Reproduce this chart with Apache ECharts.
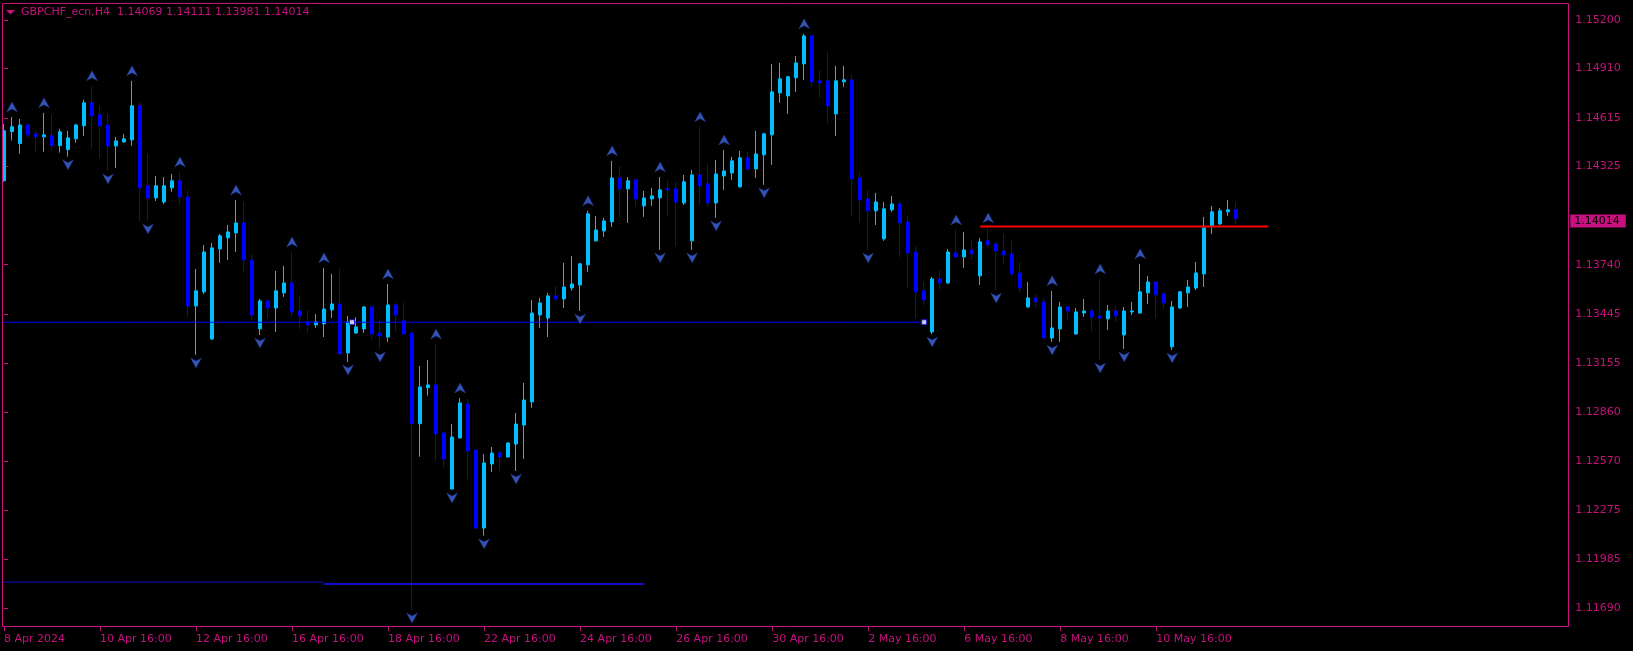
<!DOCTYPE html>
<html><head><meta charset="utf-8">
<script src="https://cdn.jsdelivr.net/npm/echarts@6/dist/echarts.min.js"></script>
<style>html,body{margin:0;padding:0;background:#000;overflow:hidden}#c{width:1633px;height:651px;}</style>
</head><body><div id="c"></div>
<script>
// ---------- data ----------
const titleText = 'GBPCHF_ecn,H4  1.14069 1.14111 1.13981 1.14014';
const tickLabels = ['8 Apr 2024','10 Apr 16:00','12 Apr 16:00','16 Apr 16:00','18 Apr 16:00','22 Apr 16:00','24 Apr 16:00','26 Apr 16:00','30 Apr 16:00','2 May 16:00','6 May 16:00','8 May 16:00','10 May 16:00'];
const barsPerTick = 12;
const slotCount = 196;
const priceTicks = [1.15200,1.14910,1.14615,1.14325,1.13740,1.13445,1.13155,1.12860,1.12570,1.12275,1.11985,1.11690];
const priceMin = 1.11580, priceMax = 1.15300;

const open = [1.14240,1.14534,1.14462,1.14573,1.14520,1.14502,1.14508,1.14450,1.14426,1.14490,
1.14568,1.14705,1.14633,1.14573,1.14448,1.14472,1.14484,1.14687,1.14210,1.14138,
1.14114,1.14198,1.14240,1.14144,1.13494,1.13578,1.13297,1.13834,1.13900,1.13929,
1.13989,1.13768,1.13357,1.13524,1.13482,1.13572,1.13631,1.13464,1.13399,1.13381,
1.13387,1.13470,1.13506,1.13214,1.13333,1.13357,1.13488,1.13333,1.13309,1.13500,
1.13405,1.13333,1.12792,1.13007,1.13023,1.12737,1.12403,1.12707,1.12910,1.12635,
1.12170,1.12552,1.12617,1.12594,1.12671,1.12784,1.12922,1.13440,1.13422,1.13554,
1.13536,1.13601,1.13619,1.13739,1.13882,1.13941,1.13995,1.14257,1.14192,1.14246,
1.14090,1.14132,1.14138,1.14192,1.14192,1.14108,1.13882,1.14275,1.14222,1.14108,
1.14269,1.14287,1.14204,1.14377,1.14311,1.14395,1.14514,1.14764,1.14746,1.14854,
1.14937,1.15104,1.14836,1.14836,1.14639,1.14830,1.14842,1.14257,1.14132,1.14061,
1.13894,1.14067,1.14102,1.13995,1.13816,1.13584,1.13339,1.13655,1.13631,1.13810,
1.13786,1.13828,1.13673,1.13882,1.13864,1.13822,1.13804,1.13691,1.13488,1.13542,
1.13518,1.13303,1.13357,1.13488,1.13327,1.13452,1.13464,1.13434,1.13417,1.13464,
1.13321,1.13458,1.13452,1.13572,1.13637,1.13566,1.13250,1.13482,1.13572,1.13601,
1.13685,1.13971,1.13983,1.14055,1.14069];
const high = [1.14580,1.14621,1.14609,1.14580,1.14538,1.14645,1.14633,1.14550,1.14538,1.14580,
1.14723,1.14806,1.14687,1.14639,1.14502,1.14520,1.14836,1.14711,1.14400,1.14269,
1.14263,1.14281,1.14293,1.14180,1.13715,1.13858,1.13870,1.13923,1.13977,1.14126,
1.14114,1.13804,1.13536,1.13530,1.13703,1.13733,1.13816,1.13554,1.13470,1.13446,
1.13721,1.13685,1.13715,1.13434,1.13428,1.13494,1.13500,1.13405,1.13625,1.13512,
1.13512,1.13339,1.13136,1.13172,1.13267,1.12740,1.12790,1.12945,1.12939,1.12640,
1.12611,1.12653,1.12629,1.12682,1.12856,1.13035,1.13530,1.13542,1.13572,1.13613,
1.13751,1.13792,1.13751,1.14061,1.14031,1.14019,1.14359,1.14329,1.14263,1.14250,
1.14180,1.14198,1.14263,1.14240,1.14234,1.14275,1.14305,1.14562,1.14341,1.14365,
1.14424,1.14383,1.14418,1.14412,1.14538,1.14526,1.14937,1.14943,1.14866,1.14985,
1.15116,1.15110,1.14902,1.15009,1.14925,1.14925,1.14872,1.14293,1.14186,1.14168,
1.14114,1.14150,1.14120,1.14031,1.13846,1.13637,1.13667,1.13709,1.13834,1.13947,
1.13935,1.13888,1.13900,1.13959,1.13876,1.13923,1.13882,1.13756,1.13637,1.13566,
1.13542,1.13584,1.13518,1.13494,1.13482,1.13536,1.13482,1.13655,1.13500,1.13494,
1.13488,1.13518,1.13745,1.13673,1.13643,1.13578,1.13524,1.13584,1.13649,1.13756,
1.14025,1.14090,1.14079,1.14126,1.14111];
const low = [1.14234,1.14480,1.14402,1.14494,1.14414,1.14414,1.14420,1.14408,1.14384,1.14468,
1.14508,1.14430,1.14377,1.14299,1.14317,1.14466,1.14448,1.14001,1.14001,1.14120,
1.14102,1.14174,1.14096,1.13428,1.13202,1.13566,1.13291,1.13751,1.13768,1.13816,
1.13697,1.13411,1.13321,1.13422,1.13339,1.13548,1.13428,1.13357,1.13333,1.13363,
1.13309,1.13422,1.13205,1.13160,1.13327,1.13333,1.13291,1.13238,1.13279,1.13339,
1.13320,1.11681,1.12595,1.12959,1.12570,1.12530,1.12397,1.12703,1.12462,1.12164,
1.12124,1.12504,1.12510,1.12588,1.12510,1.12582,1.12886,1.13363,1.13309,1.13524,
1.13482,1.13584,1.13464,1.13697,1.13876,1.13906,1.13965,1.14019,1.13989,1.14085,
1.14025,1.14090,1.13828,1.14031,1.13852,1.14096,1.13828,1.14096,1.14085,1.14019,
1.14186,1.14246,1.14198,1.14299,1.14257,1.14216,1.14335,1.14705,1.14639,1.14770,
1.14842,1.14800,1.14735,1.14585,1.14508,1.14800,1.14031,1.13989,1.13828,1.13977,
1.13882,1.14055,1.13786,1.13601,1.13422,1.13500,1.13327,1.13595,1.13625,1.13780,
1.13721,1.13768,1.13619,1.13840,1.13589,1.13745,1.13667,1.13578,1.13482,1.13482,
1.13297,1.13279,1.13279,1.13411,1.13321,1.13428,1.13339,1.13172,1.13351,1.13399,
1.13238,1.13440,1.13446,1.13506,1.13422,1.13476,1.13232,1.13476,1.13488,1.13589,
1.13607,1.13923,1.13977,1.14031,1.13981];
const close = [1.14538,1.14562,1.14573,1.14514,1.14502,1.14514,1.14450,1.14532,1.14496,1.14573,
1.14705,1.14627,1.14568,1.14448,1.14478,1.14490,1.14687,1.14198,1.14138,1.14210,
1.14210,1.14240,1.14144,1.13494,1.13584,1.13816,1.13840,1.13912,1.13935,1.13989,
1.13768,1.13440,1.13524,1.13482,1.13584,1.13631,1.13458,1.13434,1.13381,1.13399,
1.13476,1.13506,1.13208,1.13399,1.13369,1.13488,1.13327,1.13315,1.13500,1.13440,
1.13327,1.12792,1.13011,1.13023,1.12732,1.12582,1.12713,1.12916,1.12629,1.12170,
1.12558,1.12617,1.12594,1.12677,1.12790,1.12933,1.13452,1.13512,1.13554,1.13536,
1.13607,1.13625,1.13745,1.14043,1.13947,1.14001,1.14257,1.14192,1.14240,1.14132,
1.14138,1.14150,1.14186,1.14186,1.14114,1.14234,1.14275,1.14210,1.14108,1.14281,
1.14299,1.14359,1.14377,1.14311,1.14400,1.14520,1.14770,1.14848,1.14860,1.14943,
1.15104,1.14830,1.14824,1.14687,1.14836,1.14842,1.14251,1.14126,1.14061,1.14114,
1.14073,1.14102,1.13989,1.13810,1.13578,1.13530,1.13655,1.13631,1.13816,1.13786,
1.13828,1.13804,1.13876,1.13858,1.13822,1.13798,1.13685,1.13601,1.13542,1.13518,
1.13303,1.13363,1.13488,1.13464,1.13458,1.13464,1.13428,1.13422,1.13464,1.13434,
1.13464,1.13464,1.13578,1.13637,1.13560,1.13512,1.13488,1.13578,1.13607,1.13691,
1.13959,1.14055,1.14061,1.14067,1.14014];

const upFractals = [1,5,11,16,22,29,36,40,48,54,57,73,76,82,87,90,100,119,123,131,137,142];
const downFractals = [8,13,18,24,32,43,47,51,56,60,64,72,82,86,89,95,108,116,124,131,137,140,146];

const currentPrice = 1.14014;
const levelPrice = 1.13397, levelFrom = 0, levelTo = 115;
const levelMarkers = [43.5, 115];
const supportFrom = [0, 40], supportTo = [40, 80], supportPrice = [1.11848, 1.11836];
const redFrom = 122, redTo = 158, redPrice = 1.13967;

// ---------- styles ----------
const MAG = '#C8107F';
const BULL = '#00BFFF';
const BEAR = '#0000FF';
const ARROW = '#4169E1';
const FONT = 'DejaVu Sans';

const slots = Array.from({length: slotCount}, (_, i) => i);
const showTick = (idx) => idx % barsPerTick === 0 && idx / barsPerTick < tickLabels.length;

const candles = open.map((o, i) => [o, close[i], low[i], high[i]]);

const series = [
  {
    type: 'candlestick', data: candles, barWidth: 4, z: 3,
    itemStyle: {color: BULL, color0: BEAR, borderColor: BULL, borderColor0: BEAR, borderWidth: 1}
  },
  {
    type: 'line', data: [[levelFrom, levelPrice], [levelTo, levelPrice]], showSymbol: false, z: 4,
    lineStyle: {color: BEAR, width: 1}, silent: true
  },
  {
    type: 'line', data: [[supportFrom[0], supportPrice[0]], [supportTo[0], supportPrice[0]]], showSymbol: false, z: 4,
    lineStyle: {color: '#1010C8', width: 1}, silent: true
  },
  {
    type: 'line', data: [[supportFrom[1], supportPrice[1]], [supportTo[1], supportPrice[1]]], showSymbol: false, z: 4,
    lineStyle: {color: '#1010C8', width: 2}, silent: true
  },
  {
    type: 'line', data: [[redFrom, redPrice], [redTo, redPrice]], showSymbol: false, z: 4,
    lineStyle: {color: '#FF0000', width: 2}, silent: true
  },
  {
    type: 'scatter', data: upFractals.map(i => [i, high[i]]), z: 5, silent: true,
    symbol: 'path://M5,0 L10,10 L5,7 L0,10 Z', symbolSize: [11, 10], symbolOffset: [0, -10],
    itemStyle: {color: ARROW, borderColor: '#1c2f80', borderWidth: 0.6}
  },
  {
    type: 'scatter', data: downFractals.map(i => [i, low[i]]), z: 5, silent: true,
    symbol: 'path://M0,0 L5,3 L10,0 L5,10 Z', symbolSize: [11, 10], symbolOffset: [0, 8],
    itemStyle: {color: ARROW, borderColor: '#1c2f80', borderWidth: 0.6}
  },
  {
    type: 'scatter', xAxisIndex: 1, data: levelMarkers.map(x => [x, levelPrice]), z: 6, silent: true,
    symbol: 'rect', symbolSize: 5, itemStyle: {color: '#FFFFFF', borderColor: BEAR, borderWidth: 1}
  },
  {
    // current price tag on the price scale
    type: 'line', data: [[slotCount - 1, currentPrice]], z: 10, silent: true,
    showSymbol: false, lineStyle: {opacity: 0},
    markLine: {
      silent: true, symbol: 'none', animation: false,
      lineStyle: {color: 'rgba(0,0,0,0)', width: 1},
      data: [{yAxis: currentPrice}],
      label: {show: true, position: 'end', distance: 2, formatter: currentPrice.toFixed(5),
        backgroundColor: MAG, color: '#000', fontFamily: FONT, fontSize: 11, padding: [1, 6, 1, 4], lineHeight: 11}
    }
  }
];

const chart = echarts.init(document.getElementById('c'), null, {renderer: 'canvas'});
chart.setOption({
  animation: false,
  backgroundColor: '#000000',
  grid: {left: -0.7, top: 3, width: 1569, height: 624, containLabel: false},
  xAxis: [
    {
      type: 'category', data: slots, boundaryGap: true,
      axisLine: {show: false},
      axisTick: {show: true, alignWithLabel: true, interval: showTick, length: 4, lineStyle: {color: MAG}},
      axisLabel: {show: true, interval: showTick, align: 'left', margin: 7, color: MAG, fontFamily: FONT, fontSize: 11,
        formatter: (v, idx) => tickLabels[idx / barsPerTick]},
      splitLine: {show: false}
    },
    {
      type: 'value', min: -0.5, max: slotCount - 0.5, show: false
    }
  ],
  yAxis: {
    type: 'value', position: 'right', min: priceMin, max: priceMax, scale: true,
    axisLine: {show: false},
    axisTick: {show: true, length: 4, customValues: priceTicks, lineStyle: {color: MAG}},
    axisLabel: {show: true, customValues: priceTicks, margin: 7, color: MAG, fontFamily: FONT, fontSize: 11,
      formatter: v => v.toFixed(5)},
    splitLine: {show: false}
  },
  graphic: [
    {type: 'rect', silent: true, z: 100, shape: {x: 2.5, y: 3.5, width: 1566, height: 623},
      style: {fill: 'none', stroke: MAG, lineWidth: 1}},
    {type: 'polygon', silent: true, z: 100, shape: {points: [[6, 10], [15, 10], [10.5, 14.5]]}, style: {fill: MAG}},
    {type: 'text', silent: true, z: 100, left: 21, top: 7,
      style: {text: titleText, fill: MAG, font: '11px "DejaVu Sans"'}}
  ],
  series: series
});
</script>
</body></html>
